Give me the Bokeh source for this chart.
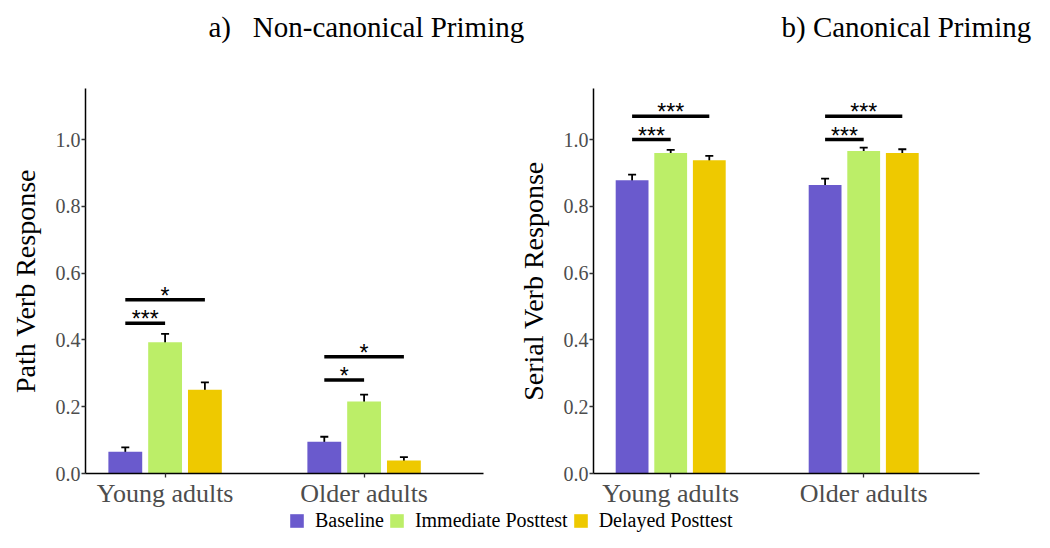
from bokeh.plotting import figure
from bokeh.models import (ColumnDataSource, Range1d, FixedTicker, Whisker, TeeHead,
                          Legend, LegendItem)
from bokeh.layouts import column, row
from bokeh.core.properties import value
from bokeh.embed import file_html
from bokeh.resources import INLINE

# ---------------- data ----------------
groups = ["Young adults", "Older adults"]
conditions = ["Baseline", "Immediate Posttest", "Delayed Posttest"]
colors = ["#6A5ACD", "#BCEE68", "#EEC900"]

# Non-canonical priming (Path verb response), rows = conditions, cols = groups
path_mean = [[0.065, 0.095], [0.393, 0.216], [0.251, 0.039]]
path_se = [[0.013, 0.015], [0.025, 0.020], [0.022, 0.010]]
# Canonical priming (Serial verb response)
serial_mean = [[0.878, 0.864], [0.960, 0.966], [0.938, 0.960]]
serial_se = [[0.017, 0.019], [0.009, 0.010], [0.013, 0.011]]

# significance brackets: (group, from condition, to condition, y, label)
path_sig = [("Young adults", 0, 1, 0.45, "***"), ("Young adults", 0, 2, 0.52, "*"),
            ("Older adults", 0, 1, 0.28, "*"), ("Older adults", 0, 2, 0.35, "*")]
serial_sig = [("Young adults", 0, 1, 1.00, "***"), ("Young adults", 0, 2, 1.07, "***"),
              ("Older adults", 0, 1, 1.00, "***"), ("Older adults", 0, 2, 1.07, "***")]

yticks = [0.0, 0.2, 0.4, 0.6, 0.8, 1.0]
titles = ["a)\u00a0\u00a0\u00a0Non-canonical Priming", "b) Canonical Priming"]

SERIF = "Liberation Serif"
SANS = "Liberation Sans"
DODGE = 0.2
BAR_W = 0.17
PANEL_H = 460


def xpos(g, c):
    return groups.index(g) + 1 + (c - 1) * DODGE


def panel(means, ses, sigs, ylabel, width, bl, br):
    p = figure(width=width, height=PANEL_H, x_range=Range1d(0.6, 2.6), y_range=Range1d(0, 1.153),
               output_backend="svg", toolbar_location=None,
               min_border_left=bl, min_border_right=br, min_border_top=38,
               min_border_bottom=PANEL_H - (474 - 50))
    p.grid.visible = False
    p.outline_line_color = None
    for ci, cond in enumerate(conditions):
        xs = [xpos(g, ci) for g in groups]
        src = ColumnDataSource(dict(x=xs, top=means[ci],
                                    upper=[m + s for m, s in zip(means[ci], ses[ci])],
                                    lower=[m - s for m, s in zip(means[ci], ses[ci])]))
        p.vbar(x="x", top="top", bottom=0, width=BAR_W, source=src,
               fill_color=colors[ci], line_color=None)
        w = Whisker(base="x", upper="upper", lower="lower", source=src, dimension="height",
                    line_color="black", line_width=1.8,
                    upper_head=TeeHead(size=8, line_width=1.8, line_color="black"),
                    lower_head=TeeHead(size=8, line_width=1.8, line_color="black"))
        p.add_layout(w)
    ssrc = ColumnDataSource(dict(
        x0=[xpos(g, a) for g, a, b, y, t in sigs],
        x1=[xpos(g, b) for g, a, b, y, t in sigs],
        y=[y for g, a, b, y, t in sigs],
        xm=[(xpos(g, a) + xpos(g, b)) / 2 for g, a, b, y, t in sigs],
        label=[t for g, a, b, y, t in sigs]))
    p.segment(x0="x0", x1="x1", y0="y", y1="y", source=ssrc, line_color="black",
              line_width=3.5)
    p.text(x="xm", y="y", text="label", source=ssrc, text_align="center",
           text_baseline="middle", text_font=value(SANS), text_font_size="23px",
           text_color="black", y_offset=-4)

    p.xaxis.ticker = FixedTicker(ticks=[1, 2])
    p.xaxis.major_label_overrides = {1: groups[0], 2: groups[1]}
    p.yaxis.ticker = FixedTicker(ticks=yticks)
    p.yaxis.major_label_overrides = {t: f"{t:.1f}" for t in yticks}
    for ax in (p.xaxis, p.yaxis):
        ax.axis_line_color = "black"
        ax.axis_line_width = 1.5
        ax.major_tick_line_color = "#333333"
        ax.major_tick_line_width = 1.3
        ax.major_tick_in = 0
        ax.major_tick_out = 4
        ax.minor_tick_line_color = None
        ax.major_label_text_font = SERIF
        ax.major_label_text_color = "#4D4D4D"
    p.xaxis.major_label_text_font_size = "26px"
    p.xaxis.major_label_standoff = 1
    p.yaxis.major_label_text_font_size = "20px"
    p.yaxis.major_label_standoff = 1
    p.yaxis.axis_label = ylabel
    p.yaxis.axis_label_text_font = SERIF
    p.yaxis.axis_label_text_font_size = "28px"
    p.yaxis.axis_label_text_font_style = "normal"
    p.yaxis.axis_label_text_color = "black"
    p.yaxis.axis_label_standoff = 12
    return p


# frame: left panel x 85..483, right panel x 593..979, y 88..474
p1 = panel(path_mean, path_se, path_sig, "Path Verb Response", 510, 85, 27)
p2 = panel(serial_mean, serial_se, serial_sig, "Serial Verb Response", 524, 83, 55)

# title strip
t = figure(width=1034, height=50, x_range=Range1d(0, 1034), y_range=Range1d(0, 50),
           output_backend="svg", toolbar_location=None, min_border=0)
t.axis.visible = False
t.grid.visible = False
t.outline_line_color = None
tsrc = ColumnDataSource(dict(x=[208, 781], y=[24, 24], txt=titles))
t.text(x="x", y="y", text="txt", source=tsrc, text_font=value(SERIF),
       text_font_size="29px", text_color="black", text_baseline="middle",
       text_align="left")

# legend strip
lg = figure(width=1034, height=22, x_range=Range1d(0, 1), y_range=Range1d(0, 1),
            output_backend="svg", toolbar_location=None, min_border=0)
lg.axis.visible = False
lg.grid.visible = False
lg.outline_line_color = None
items = []
for ci, cond in enumerate(conditions):
    r = lg.rect(x=[-10], y=[-10], width=1, height=1, fill_color=colors[ci], line_color=None)
    items.append(LegendItem(label=cond, renderers=[r]))
leg = Legend(items=items, orientation="horizontal", location=(288, 0),
             label_text_font=SERIF, label_text_font_size="20px", label_text_color="black",
             glyph_width=17, glyph_height=17, label_standoff=10, spacing=4, padding=0,
             margin=0, border_line_color=None, background_fill_alpha=0,
             label_height=17)
lg.add_layout(leg, "center")

layout = column(t, row(p1, p2), lg)
open("out.html", "w").write(file_html(layout, INLINE))
